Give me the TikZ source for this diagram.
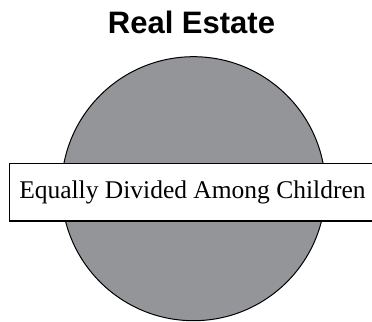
\documentclass[tikz,border=0pt]{standalone}
\usepackage{fontspec}
\setmainfont{Liberation Serif}
\newfontfamily\titlefont{Liberation Sans}
\usepackage{tikz}
\definecolor{estategray}{RGB}{148,149,153}
\tikzset{
  share/.style={circle, draw=black, line width=1bp, fill=estategray, minimum size=264bp, inner sep=0pt},
  heirbox/.style={draw=black, line width=1.5bp, fill=white, minimum height=57.5bp, inner xsep=10bp, anchor=west,
    text width=360bp, align=flush left, font=\fontsize{25.5bp}{28bp}\selectfont},
  heading/.style={anchor=base, font=\titlefont\bfseries\fontsize{31bp}{35bp}\selectfont}
}

\begin{document}
\begin{tikzpicture}[x=1bp, y=-1bp]
			%%%%% START %%%%%
			
			\useasboundingbox (0, 0) rectangle (372, 322);
			
			\node[heading] (title) at (191.5, 33) {Real Estate};
			
			\node[share] (estate) at (193.5, 188.7) {};
			
			\node[heirbox] (children) at (8.5, 192.3) {Equally Divided Among Children};
			
			%%%%% END %%%%%
		\end{tikzpicture}
\end{document}
